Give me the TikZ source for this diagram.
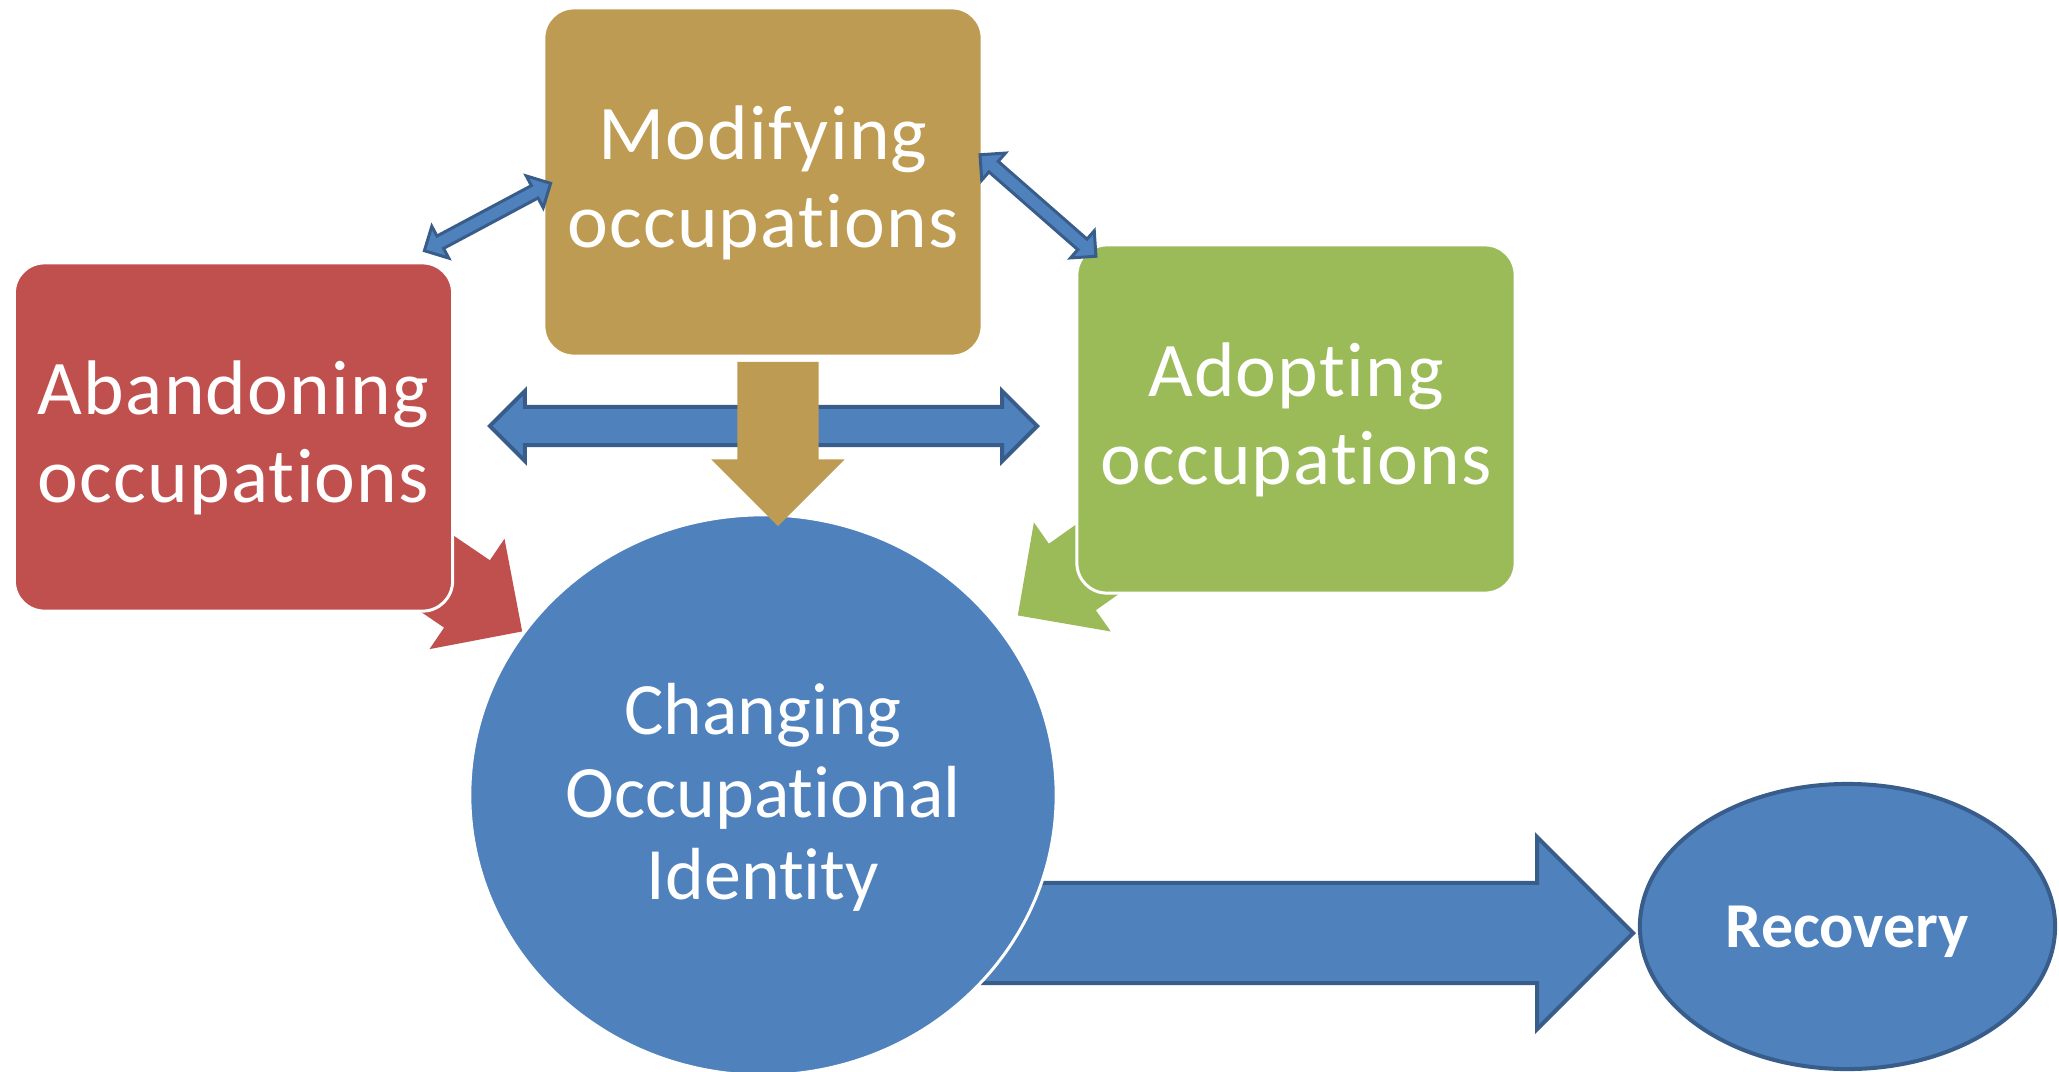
\documentclass[tikz,border=0pt]{standalone}
\usepackage{fontspec}
\setmainfont[Ligatures=NoCommon]{Carlito}
\newfontfamily\boxfont[Ligatures=NoCommon, LetterSpace=1.6]{Carlito}
\usepackage{xcolor}
\usetikzlibrary{shapes.geometric,shapes.arrows,backgrounds}

\definecolor{accblue}{HTML}{4F81BD}
\definecolor{accline}{HTML}{385D8A}
\definecolor{accred}{HTML}{C0504D}
\definecolor{accgreen}{HTML}{9BBB59}
\definecolor{accgold}{HTML}{BE9B52}

\begin{document}
\begin{tikzpicture}[
  x=0.01cm, y=-0.01cm,
  module/.style={rectangle, rounded corners=0.3cm, draw=white, line width=0.03cm, minimum width=4.38cm, minimum height=3.48cm, align=center, inner sep=0pt, text=white, text depth=0.1cm, font=\boxfont\fontsize{22}{25}\selectfont},
  stage/.style={ellipse, fill=accblue, align=center, inner sep=0pt, text=white},
  push/.style={single arrow, single arrow tip angle=90, single arrow head extend=0.26cm, inner xsep=0pt, inner ysep=0.4cm, anchor=tip},
  link/.style={double arrow, double arrow tip angle=90, fill=accblue, draw=accline, line width=0.03cm, inner xsep=0pt, inner ysep=0.055cm, double arrow head extend=0.11cm}
]
\useasboundingbox (0,0) rectangle (2059,1072);

% Occupation modules
\node[module, fill=accgold] (modify) at (763,182) {Modifying\\occupations};
\node[module, fill=accred] (abandon) at (233.5,437) {Abandoning\\occupations};
\node[module, fill=accgreen] (adopt) at (1296,419) {Adopting\\occupations};

% Identity and outcome
\node[stage, draw=white, line width=0.03cm, minimum width=5.86cm, minimum height=5.6cm, text depth=0.07cm, font=\fontsize{21}{23.5}\selectfont] (identity) at (763,795) {Changing\\Occupational\\Identity};
\node[stage, draw=accline, line width=0.04cm, minimum width=4.15cm, minimum height=2.85cm, text depth=0pt, font=\bfseries\fontsize{18.2}{22}\selectfont] (recovery) at (1847.5,926.5) {Recovery};

% Arrows behind the shapes
\begin{pgfonlayer}{background}
\node[push, fill=accred, rotate=-34.2, minimum height=1.66cm] (abtoid) at (523,632) {};
\node[push, fill=accgreen, rotate=-144.8, minimum height=1.66cm] (adtoid) at (1017,616) {};
\node[push, fill=accblue, draw=accline, line width=0.04cm, inner ysep=0.48cm, single arrow head extend=0.46cm, minimum height=7.36cm] (idtorec) at (1636,933) {};
\end{pgfonlayer}

% Links between the modules
\node[link, inner ysep=0.17cm, double arrow head extend=0.16cm, line width=0.04cm, minimum height=5.47cm] (abad) at (763.5,426) {};
\node[push, fill=accgold, rotate=-90, minimum height=1.64cm] (modtoid) at (778,527) {};
\node[link, rotate=28.1, minimum height=1.43cm] (abmod) at (487.5,217) {};
\node[link, rotate=-41.2, minimum height=1.54cm] (modad) at (1038,205.5) {};

\end{tikzpicture}
\end{document}
